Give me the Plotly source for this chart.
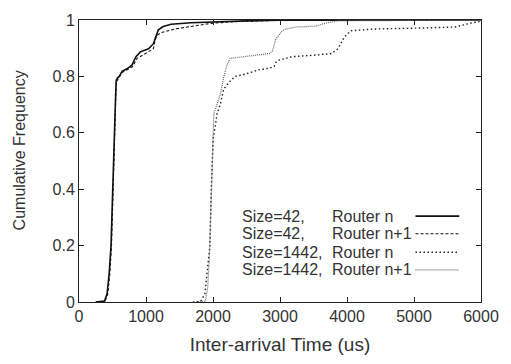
import plotly.graph_objects as go

# Size=42, Router n
s42_n_x = [250, 380, 420, 450, 478, 500, 526, 545, 555, 575, 600, 643, 716, 790, 850, 916, 1038, 1111, 1145, 1184, 1257, 1375, 1670, 2000, 2500, 3000, 6000]
s42_n_y = [0, 0.003, 0.03, 0.1, 0.2, 0.4, 0.6, 0.72, 0.785, 0.795, 0.8, 0.818, 0.827, 0.84, 0.87, 0.887, 0.898, 0.916, 0.94, 0.965, 0.977, 0.985, 0.99, 0.993, 0.997, 0.999, 1.0]
# Size=42, Router n+1
s42_n1_x = [250, 390, 430, 460, 485, 505, 530, 548, 558, 578, 605, 650, 720, 800, 867, 989, 1111, 1135, 1160, 1233, 1428, 1672, 1963, 2300, 2600, 3000, 6000]
s42_n1_y = [0, 0.003, 0.03, 0.1, 0.2, 0.4, 0.6, 0.72, 0.78, 0.79, 0.8, 0.815, 0.825, 0.835, 0.864, 0.881, 0.898, 0.927, 0.945, 0.956, 0.968, 0.977, 0.988, 0.994, 0.997, 0.999, 1.0]
# Size=1442, Router n
s1442_n_x = [1700, 1818, 1880, 1915, 1954, 1974, 2003, 2037, 2061, 2110, 2158, 2256, 2329, 2451, 2694, 2841, 2914, 2939, 2987, 3085, 3182, 3500, 3767, 3865, 3962, 4060, 4400, 5000, 5614, 5862, 6000]
s1442_n_y = [0, 0.003, 0.03, 0.1, 0.2, 0.4, 0.58, 0.63, 0.668, 0.702, 0.755, 0.783, 0.8, 0.806, 0.824, 0.829, 0.835, 0.85, 0.858, 0.864, 0.87, 0.875, 0.881, 0.898, 0.94, 0.962, 0.968, 0.971, 0.975, 0.99, 0.995]
# Size=1442, Router n+1
s1442_n1_x = [1750, 1886, 1920, 1945, 1965, 1985, 2005, 2012, 2061, 2110, 2158, 2207, 2256, 2451, 2841, 2888, 2939, 3036, 3085, 3231, 3523, 3700, 3860, 4500, 6000]
s1442_n1_y = [0, 0.003, 0.05, 0.15, 0.3, 0.5, 0.62, 0.668, 0.702, 0.737, 0.795, 0.84, 0.864, 0.87, 0.881, 0.89, 0.933, 0.962, 0.968, 0.975, 0.978, 0.99, 0.997, 0.998, 0.999]

x_ticks = [0, 1000, 2000, 3000, 4000, 5000, 6000]
y_ticks = [0, 0.2, 0.4, 0.6, 0.8, 1]
y_tick_labels = ["0", "0.2", "0.4", "0.6", "0.8", "1"]

size_labels = ["Size=42,", "Size=42,", "Size=1442,", "Size=1442,"]
router_labels = ["Router n", "Router n+1", "Router n", "Router n+1"]

styles = [
    dict(color="#111111", width=1.6, dash="solid"),
    dict(color="#111111", width=1.1, dash="3px,2px"),
    dict(color="#222222", width=1.4, dash="1.5px,2.5px"),
    dict(color="#666666", width=1.2, dash="1px,1px"),
]

series = [(s42_n_x, s42_n_y), (s42_n1_x, s42_n1_y), (s1442_n_x, s1442_n_y), (s1442_n1_x, s1442_n1_y)]

fig = go.Figure()
for (xs, ys), st, a, b in zip(series, styles, size_labels, router_labels):
    fig.add_trace(go.Scatter(x=xs, y=ys, mode="lines", line=st, name=a + " " + b, showlegend=False))

FONT = "Arial"
TXT = "#333333"
FS = 16

# custom gnuplot-style key
row_y = [0.3045, 0.2422, 0.1765, 0.1142]
for ry, a, b, st in zip(row_y, size_labels, router_labels, styles):
    fig.add_annotation(x=0.40, y=ry, xref="paper", yref="paper", text=a, showarrow=False,
                       xanchor="left", yanchor="middle", font=dict(size=FS, color=TXT, family=FONT))
    fig.add_annotation(x=0.6244, y=ry, xref="paper", yref="paper", text=b, showarrow=False,
                       xanchor="left", yanchor="middle", font=dict(size=FS, color=TXT, family=FONT))
    fig.add_shape(type="line", xref="paper", yref="paper", x0=0.837, x1=0.946, y0=ry, y1=ry, line=st)

# y-axis title (placed like gnuplot's ylabel)
fig.add_annotation(x=-0.149, y=0.538, xref="paper", yref="paper", text="Cumulative Frequency",
                   textangle=-90, showarrow=False, xanchor="center", yanchor="middle",
                   font=dict(size=FS, color=TXT, family=FONT))

fig.update_layout(
    width=511, height=364,
    margin=dict(l=79, r=22, t=14, b=61),
    paper_bgcolor="white", plot_bgcolor="white",
    font=dict(family=FONT, size=FS, color=TXT),
)
fig.update_xaxes(range=[0, 6000], tickvals=x_ticks, ticks="inside", ticklen=5, tickcolor="#222",
                 showline=True, linecolor="#222", linewidth=1, mirror="ticks", showgrid=False, zeroline=False,
                 title=dict(text="Inter-arrival Time (us)", standoff=13))
fig.update_yaxes(range=[0, 1], tickvals=y_ticks, ticktext=y_tick_labels, ticks="inside", ticklen=5, tickcolor="#222",
                 showline=True, linecolor="#222", linewidth=1, mirror="ticks", showgrid=False, zeroline=False)

fig.write_html("out.html")
